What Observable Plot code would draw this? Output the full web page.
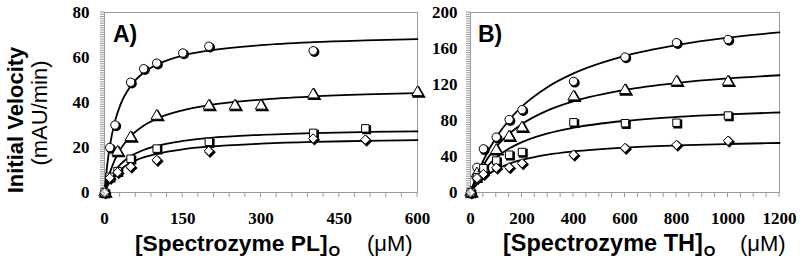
<!DOCTYPE html>
<html><head><meta charset="utf-8">
<script src="https://cdn.jsdelivr.net/npm/d3@7"></script>
<script src="https://cdn.jsdelivr.net/npm/@observablehq/plot@0.6"></script>
<style>
body{margin:0;background:#fff}
#wrap{position:relative;width:800px;height:259px;overflow:hidden;background:#fff}
#wrap svg{position:absolute;top:0}
</style></head><body><div id="wrap"></div>
<script>
// ---------- Panel A : Spectrozyme PL ----------
const aCircleX = [0,10,20,50,75,100,150,200,400];
const aCircleY = [0,20,30,49,55,57.5,62,65,63];
const aTriX    = [0,25,50,100,200,250,300,400,600];
const aTriY    = [0,18,24.5,34,38.5,38.5,38.5,43.5,44.5];
const aSqX     = [0,10,25,50,100,200,400,500];
const aSqY     = [0,7,9.5,15,19.5,22.5,26.5,28.5];
const aDiaX    = [0,10,25,50,100,200,400,500];
const aDiaY    = [0,6.5,9,11.5,14.5,18.5,24,23.5];
// fitted lines
const aCurveX      = [0,5,10,20,30,50,75,100,150,200,300,400,500,600];
const aCurveCircle = [0,11.8,20.3,31.6,38.7,47.3,53.3,56.8,60.9,63.1,65.5,66.8,67.6,68.2];
const aCurveTri    = [0,4.8,8.6,14.6,19,25,29.7,32.8,36.5,38.8,41.3,42.7,43.6,44.2];
const aCurveSq     = [0,3.2,5.8,9.7,12.4,16.1,18.9,20.7,22.9,24.2,25.6,26.4,26.9,27.2];
const aCurveDia    = [0,2.5,4.5,7.7,10,13.2,15.6,17.2,19.2,20.4,21.7,22.5,22.9,23.3];
const aTicksX = [0,150,300,450,600];
const aTicksY = [0,20,40,60,80];

// ---------- Panel B : Spectrozyme TH ----------
const bX       = [0,25,50,100,150,200,400,600,800,1000];
const bCircleY = [0,28,48.5,61.5,81,92,123.5,150.5,166.5,170];
const bTriY    = [0,21,26.5,47,62,72,106.5,113.5,123,123];
const bSqY     = [0,17,27,35.5,42,45,78,77,77.5,85.5];
const bDiaY    = [0,16,20.5,27.5,28,32.5,42,49.5,53,57.5];
const bCurveX      = [0,25,50,100,150,200,300,400,600,800,1000,1200];
const bCurveCircle = [0,19.5,35.8,61.4,80.6,95.6,117.3,132.3,151.8,163.8,172,177.9];
const bCurveTri    = [0,16.9,30.4,50.7,65.1,76,91.2,101.3,114,121.6,126.7,130.3];
const bCurveSq     = [0,13.6,24,38.8,48.8,56,65.7,72,79.6,84,86.9,88.9];
const bCurveDia    = [0,9.4,16.2,25.7,31.9,36.2,42,45.6,49.9,52.3,53.9,55];
const bTicksX = [0,200,400,600,800,1000,1200];
const bTicksY = [0,40,80,120,160,200];

// ---------- Texts ----------
const panelLabels = ["A)", "B)"];
const yTitle = ["Initial Velocity", "(mAU/min)"];
const xTitleA = ["[Spectrozyme PL]", "O", "(\u03BCM)"];
const xTitleB = ["[Spectrozyme TH]", "O", "(\u03BCM)"];

const SANS = "'Liberation Sans', Arial, Helvetica, sans-serif";
const SERIF = "'Liberation Serif', 'Times New Roman', serif";
const GREY = "#9a9a9a";
const DIAMOND = d3.symbolDiamond2 || "diamond";

const zip = (xs, ys) => xs.map((x, i) => ({x, y: ys[i]}));

function ticksMark(xMinor, yMinor) {
  return (index, scales, values, dim) => {
    const g = d3.create("svg:g").attr("stroke", GREY).attr("stroke-width", 1);
    const yb = dim.height - dim.marginBottom, xl = dim.marginLeft;
    for (const v of xMinor) { const p = scales.x(v); g.append("line").attr("x1", p).attr("x2", p).attr("y1", yb).attr("y2", yb + 5); }
    for (const v of yMinor) { const p = scales.y(v); g.append("line").attr("x1", xl - 4).attr("x2", xl).attr("y1", p).attr("y2", p); }
    return g.node();
  };
}

function textMark(cfg) {
  return (index, scales, values, dim) => {
    const g = d3.create("svg:g").attr("class", "mytext").attr("fill", "#000")
      .attr("text-anchor", "start").attr("font-family", SANS);
    g.append("text").attr("x", cfg.labelX).attr("y", cfg.labelY)
      .attr("font-weight", "bold").attr("font-size", 23).text(cfg.label);
    const t = g.append("text").attr("x", cfg.titleX).attr("y", cfg.titleY)
      .attr("font-weight", "bold").attr("font-size", cfg.titleSize);
    t.append("tspan").text(cfg.xTitle[0]);
    t.append("tspan").attr("font-size", 15).attr("dy", 5).attr("dx", 1).text(cfg.xTitle[1]);
    t.append("tspan").attr("x", cfg.unitX).attr("dy", -5).attr("font-weight", "normal").attr("font-size", 22).text(cfg.xTitle[2]);
    if (cfg.yTitle) {
      g.append("text").attr("transform", "translate(23,120) rotate(-90)").attr("text-anchor", "middle")
        .attr("font-weight", "bold").attr("font-size", 22).text(cfg.yTitle[0]);
      g.append("text").attr("transform", "translate(47,113) rotate(-90)").attr("text-anchor", "middle")
        .attr("font-weight", "normal").attr("font-size", 22).text(cfg.yTitle[1]);
    }
    return g.node();
  };
}

function panel(o) {
  const marks = [Plot.frame({stroke: GREY})];
  for (const c of o.curves) marks.push(Plot.line(c, {x: "x", y: "y", curve: "monotone-x", stroke: "#000", strokeWidth: 1.8}));
  for (const [sym, d] of o.series) marks.push(Plot.dot(d, {x: "x", y: "y", symbol: sym, r: 4.2, fill: "#000", stroke: "#000", dx: 1.3, dy: 1.3}));
  for (const [sym, d] of o.series) marks.push(Plot.dot(d, {x: "x", y: "y", symbol: sym, r: 4.2, fill: "#fff", stroke: "#000", strokeWidth: 1}));
  marks.push(ticksMark(o.xMinor, o.yMinor));
  marks.push(textMark(o.text));
  const svg = Plot.plot({
    width: o.width, height: 259,
    marginLeft: o.marginLeft, marginRight: o.marginRight, marginTop: 12, marginBottom: 67,
    style: {background: "transparent", overflow: "visible", color: "#000", maxWidth: "none"},
    x: {domain: o.xDomain, ticks: o.xTicks, tickSize: 0, tickPadding: 19, label: null, tickFormat: d => String(d)},
    y: {domain: o.yDomain, ticks: o.yTicks, tickSize: 0, tickPadding: o.yPad, label: null, tickFormat: d => String(d)},
    marks
  });
  // axis tick labels: bold serif
  svg.querySelectorAll("text").forEach(t => {
    if (t.closest(".mytext")) return;
    t.setAttribute("font-family", SERIF);
    t.setAttribute("font-weight", "bold");
    t.setAttribute("font-size", "17");
    t.setAttribute("fill", "#000");
  });
  svg.querySelectorAll('g[aria-label*="axis"]').forEach(g => {
    g.setAttribute("font-family", SERIF);
    g.setAttribute("font-size", "17");
    g.setAttribute("font-weight", "bold");
  });
  svg.style.left = o.left + "px";
  return svg;
}

const wrap = document.getElementById("wrap");
wrap.appendChild(panel({
  left: 0, width: 420, marginLeft: 104, marginRight: 3,
  xDomain: [0, 600], yDomain: [0, 80], xTicks: aTicksX, yTicks: aTicksY, yPad: 15,
  xMinor: d3.range(0, 601, 30), yMinor: d3.range(0, 80.1, 1),
  curves: [zip(aCurveX, aCurveCircle), zip(aCurveX, aCurveTri), zip(aCurveX, aCurveSq), zip(aCurveX, aCurveDia)],
  series: [["circle", zip(aCircleX, aCircleY)], ["triangle", zip(aTriX, aTriY)], ["square", zip(aSqX, aSqY)], [DIAMOND, zip(aDiaX, aDiaY)]],
  text: {label: panelLabels[0], labelX: 113, labelY: 42, xTitle: xTitleA, titleX: 135, unitX: 367, titleY: 251, titleSize: 22.8, yTitle}
}));
wrap.appendChild(panel({
  left: 400, width: 400, marginLeft: 70, marginRight: 21,
  xDomain: [0, 1200], yDomain: [0, 200], xTicks: bTicksX, yTicks: bTicksY, yPad: 13,
  xMinor: d3.range(0, 1201, 50), yMinor: d3.range(0, 200.1, 2.5),
  curves: [zip(bCurveX, bCurveCircle), zip(bCurveX, bCurveTri), zip(bCurveX, bCurveSq), zip(bCurveX, bCurveDia)],
  series: [["circle", zip(bX, bCircleY)], ["triangle", zip(bX, bTriY)], ["square", zip(bX, bSqY)], [DIAMOND, zip(bX, bDiaY)]],
  text: {label: panelLabels[1], labelX: 78, labelY: 42, xTitle: xTitleB, titleX: 103, unitX: 340, titleY: 251, titleSize: 23.5, yTitle: null}
}));
</script></body></html>
